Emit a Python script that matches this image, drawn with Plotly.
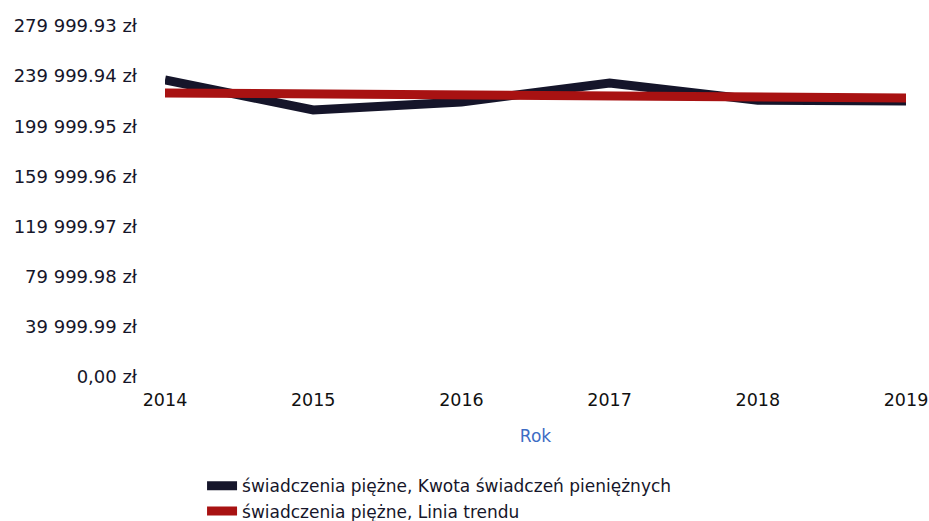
import plotly.graph_objects as go

# years on the x axis
years = [2014, 2015, 2016, 2017, 2018, 2019]

# amount of cash benefits (zł)
benefit_amount = [236900, 213000, 219400, 234500, 220700, 220200]

# trend line values (zł)
trend_amount = [226600, 225800, 225000, 224200, 223400, 222600]

# y axis ticks
y_tick_values = [0, 39999.99, 79999.98, 119999.97, 159999.96, 199999.95, 239999.94, 279999.93]
y_tick_labels = ["0,00 zł", "39 999.99 zł", "79 999.98 zł", "119 999.97 zł",
                 "159 999.96 zł", "199 999.95 zł", "239 999.94 zł", "279 999.93 zł"]

text_color = "#16162a"
font_family = "DejaVu Sans"

fig = go.Figure()

fig.add_trace(go.Scatter(
    x=years, y=benefit_amount,
    mode="lines",
    name="świadczenia piężne, Kwota świadczeń pieniężnych",
    line=dict(color="#15152a", width=9),
))

fig.add_trace(go.Scatter(
    x=years, y=trend_amount,
    mode="lines",
    name="świadczenia piężne, Linia trendu",
    line=dict(color="#a81212", width=9),
))

fig.update_layout(
    width=929, height=521,
    margin=dict(l=165, r=23, t=26, b=144, autoexpand=False),
    paper_bgcolor="white",
    plot_bgcolor="white",
    font=dict(family=font_family, size=17, color=text_color),
    showlegend=True,
    legend=dict(
        orientation="v",
        x=0.05, xanchor="left",
        y=-0.26, yanchor="top",
        font=dict(size=17, color=text_color),
        itemwidth=30,
        tracegroupgap=0,
    ),
    xaxis=dict(
        range=[2014, 2019],
        tickvals=years,
        ticktext=[str(y) for y in years],
        showgrid=False, zeroline=False, showline=False,
        ticks="", ticklabelstandoff=10,
        tickfont=dict(size=17.5, color="#111111"),
        title=dict(text="Rok", font=dict(size=17, color="#3d6cc4"), standoff=21),
    ),
    yaxis=dict(
        range=[0, 279999.93],
        tickvals=y_tick_values,
        ticktext=y_tick_labels,
        showgrid=False, zeroline=False, showline=False,
        ticks="", ticklabelstandoff=27,
        tickfont=dict(size=18, color=text_color),
    ),
)

# drop the default page margin so the figure fills the window exactly
fig.write_html(
    "out.html",
    config={"displayModeBar": False},
    post_script="document.body.style.margin='0';document.body.style.overflow='hidden';",
)
